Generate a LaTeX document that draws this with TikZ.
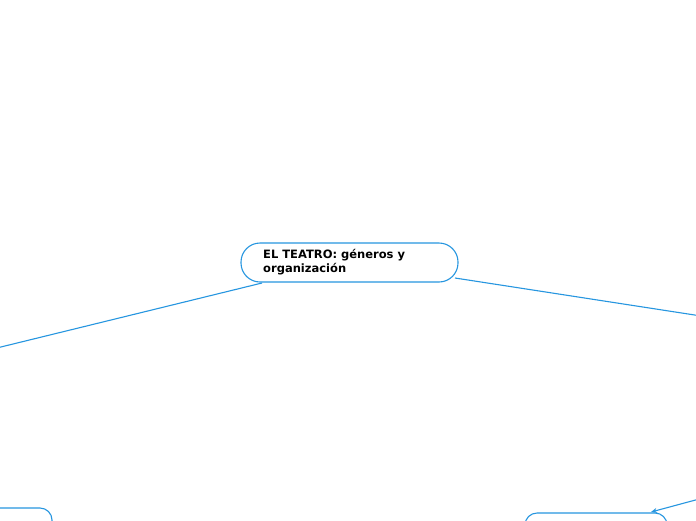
\documentclass[tikz,border=0pt]{standalone}
\usepackage{fontspec}
\setmainfont{DejaVu Sans}
\usetikzlibrary{arrows.meta}
\definecolor{mmblue}{HTML}{2696E0}
\tikzset{
  topic/.style={draw=mmblue, line width=1.1pt, rounded corners=19pt, fill=white},
  subbox/.style={draw=mmblue, line width=1.1pt, rounded corners=12pt, fill=white},
  link/.style={draw=mmblue, line width=1.1pt},
  maintext/.style={font=\bfseries\fontsize{11.5}{14}\selectfont, align=left, anchor=north west, inner sep=0pt, text=black}
}
\begin{document}
\begin{tikzpicture}[x=1pt,y=-1pt]
\useasboundingbox (0,0) rectangle (696,520);
\clip (0,0) rectangle (696,520);
\fill[white] (0,0) rectangle (696,520);
% connectors
\coordinate (lstart) at (262,283);
\coordinate (lend) at (-40,357);
\coordinate (rstart) at (455,278);
\coordinate (rend) at (740,322);
\coordinate (astart) at (740,488);
\coordinate (aend) at (651,512);
\draw[link] (lstart) -- (lend);
\draw[link] (rstart) -- (rend);
\draw[link, -{Stealth[length=6pt,width=5pt]}] (astart) -- (aend);
% boxes
\draw[topic] (241,243) rectangle (458,282);
\node[maintext] (main) at (263,249) {EL TEATRO: géneros y\\organización};
\draw[subbox] (-60,508) rectangle (52,570);
\draw[subbox] (525,513) rectangle (667,570);
\end{tikzpicture}
\end{document}
